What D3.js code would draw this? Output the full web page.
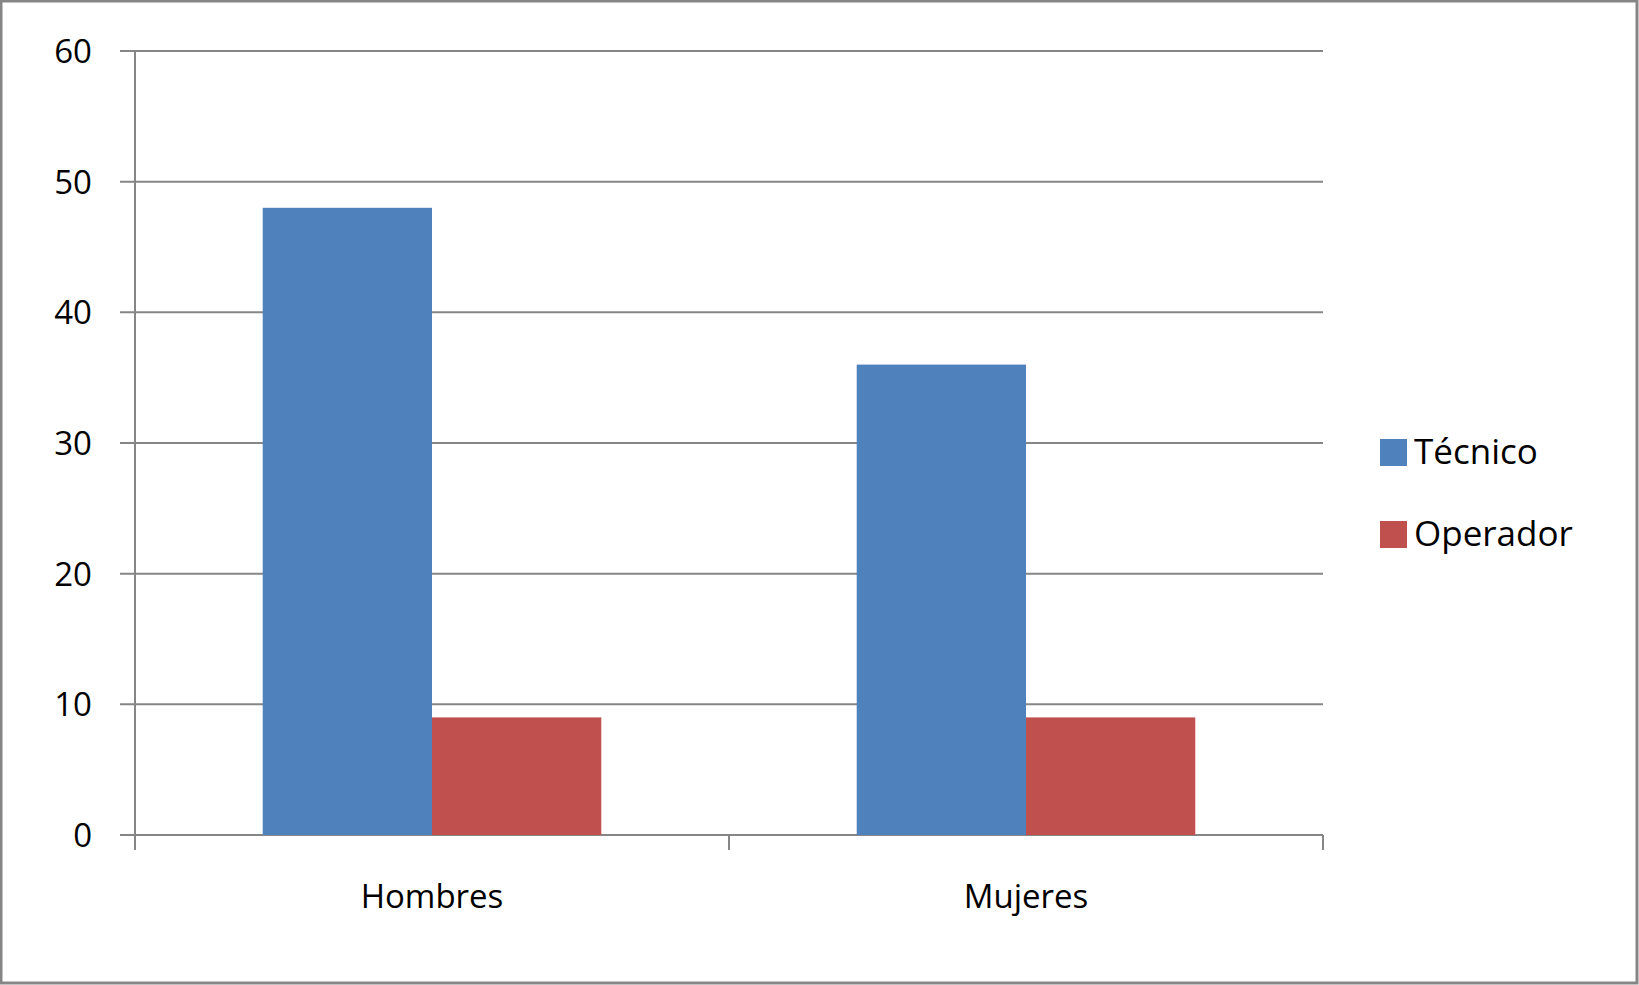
<!DOCTYPE html>
<html><head><meta charset="utf-8">
<script src="https://cdn.jsdelivr.net/npm/d3@7"></script>
<style>body{margin:0;background:#fff}text{font-family:"Open Sans",sans-serif;fill:#000}</style>
</head><body><div id="hook"></div>
<script>
var categories = ["Hombres", "Mujeres"];
var series = ["Técnico", "Operador"];
var tecnico = [48, 36];
var operador = [9, 9];
var yTicks = [0, 10, 20, 30, 40, 50, 60];
var colors = ["#4f81bd", "#c0504d"];

(function () {
  var W = 1639, H = 985;
  var svg = d3.select("#hook").append("svg").attr("width", W).attr("height", H);
  svg.append("rect").attr("x", 1).attr("y", 1).attr("width", W - 3).attr("height", H - 3)
    .attr("fill", "#fff").attr("stroke", "#868686").attr("stroke-width", 3);

  var pLeft = 135, pRight = 1323, pTop = 51, pBottom = 835;
  var y = d3.scaleLinear().domain([0, 60]).range([pBottom, pTop]);
  var x = d3.scaleBand().domain(categories).range([pLeft, pRight]);
  var xs = d3.scaleBand().domain(series).range([0, x.bandwidth() * 0.57]);
  var off = x.bandwidth() * 0.215;

  svg.selectAll(".grid").data(yTicks).enter().append("line")
    .attr("x1", pLeft - 15).attr("x2", pRight)
    .attr("y1", function (d) { return y(d); }).attr("y2", function (d) { return y(d); })
    .attr("stroke", "#868686").attr("stroke-width", 2);
  svg.selectAll(".yl").data(yTicks).enter().append("text")
    .attr("x", 92).attr("y", function (d) { return y(d) + 12; }).attr("text-anchor", "end")
    .attr("font-size", 33).text(function (d) { return d; });

  var vals = [tecnico, operador];
  categories.forEach(function (c, i) {
    series.forEach(function (s, j) {
      svg.append("rect").attr("x", x(c) + off + xs(s)).attr("width", xs.bandwidth())
        .attr("y", y(vals[j][i])).attr("height", pBottom - y(vals[j][i])).attr("fill", colors[j]);
    });
    svg.append("text").attr("x", x(c) + x.bandwidth() / 2).attr("y", 908)
      .attr("text-anchor", "middle").attr("font-size", 33).text(c);
  });

  svg.append("line").attr("x1", pLeft).attr("x2", pLeft).attr("y1", pTop).attr("y2", pBottom + 15)
    .attr("stroke", "#868686").attr("stroke-width", 2);
  [pLeft + x.bandwidth(), pRight].forEach(function (d) {
    svg.append("line").attr("x1", d).attr("x2", d).attr("y1", pBottom).attr("y2", pBottom + 15)
      .attr("stroke", "#868686").attr("stroke-width", 2);
  });

  series.forEach(function (s, j) {
    var ly = 439 + j * 82;
    svg.append("rect").attr("x", 1380).attr("y", ly).attr("width", 27).attr("height", 27).attr("fill", colors[j]);
    svg.append("text").attr("x", 1414).attr("y", ly + 25).attr("font-size", 35).text(s);
  });
})();
</script></body></html>
